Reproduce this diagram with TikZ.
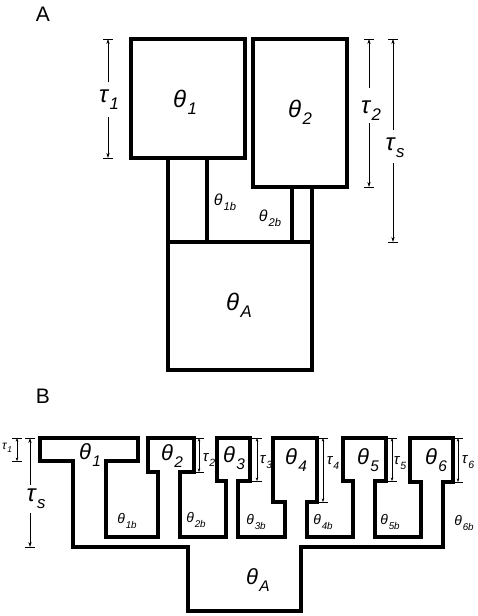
\documentclass[tikz,border=0pt]{standalone}
\usepackage{fontspec}
\usepackage{graphicx}
\setmainfont{Liberation Sans}
\usetikzlibrary{arrows.meta}
% greek letter with a lowered index
\newcommand{\gk}[2]{#1\kern.06em\raisebox{-.3em}{\scalebox{.7}{#2}}}

\begin{document}
\begin{tikzpicture}[x=1pt,y=-1pt,line join=miter,
	wall/.style={line width=3.2pt},
	thinline/.style={line width=0.5pt},
	tip/.style={-{Stealth[length=5pt,width=3.2pt]}},
	tipsmall/.style={{Stealth[length=3.5pt,width=2.6pt]}-{Stealth[length=3.5pt,width=2.6pt]}},
	panel/.style={font=\fontsize{21}{24}\selectfont},
	big/.style={inner sep=0pt,font=\fontsize{24}{26}\selectfont\itshape},
	mid/.style={inner sep=0pt,font=\fontsize{22}{24}\selectfont\itshape},
	small/.style={inner sep=0pt,font=\fontsize{16}{18}\selectfont\itshape},
	tiny/.style={inner sep=0pt,font=\fontsize{14}{16}\selectfont\itshape}]
\useasboundingbox (0,0) rectangle (478,616);

% ---- panel A
\node[panel] (labA) at (43,14) {A};
\draw[wall] (131,39) rectangle (245,158);
\draw[wall] (253,39) rectangle (347,187);
\draw[wall] (168,158) -- (168,242) (207,158) -- (207,242);
\draw[wall] (292,187) -- (292,242) (312,187) -- (312,242);
\draw[wall] (168,242) rectangle (312,370);
\node[big] (thA1) at (185,102) {\gk{θ}{1}};
\node[big] (thA2) at (300,112) {\gk{θ}{2}};
\node[small] (thA1b) at (225,202) {\gk{θ}{1b}};
\node[small] (thA2b) at (270,218) {\gk{θ}{2b}};
\node[big] (thAA) at (239,305) {\gk{θ}{A}};
% times, with a gap for the label
\foreach \x/\ya/\ga/\gb/\yb in {108/39/82/117/158, 369/39/88/123/187, 393/39/130/163/242}{
	\draw[thinline] (\x-5,\ya) -- (\x+5,\ya) (\x-5,\yb) -- (\x+5,\yb);
	\draw[thinline,tip] (\x,\ga) -- (\x,\ya);
	\draw[thinline,tip] (\x,\gb) -- (\x,\yb);}
\node[big] (tauA1) at (109,100) {\gk{τ}{1}};
\node[big] (tauA2) at (371,111) {\gk{τ}{2}};
\node[big] (tauAs) at (395,148) {\gk{τ}{s}};

% ---- panel B
\node[panel] (labB) at (43,396) {B};
\draw[wall] (40,438) -- (138,438) -- (138,461) -- (106,461) -- (106,537) -- (158,537)
	-- (158,472) -- (148,472) -- (148,438) -- (194,438) -- (194,472) -- (180,472) -- (180,537)
	-- (226,537) -- (226,481) -- (217,481) -- (217,438) -- (250,438) -- (250,481) -- (238,481)
	-- (238,537) -- (285,537) -- (285,502) -- (273,502) -- (273,438) -- (317,438) -- (317,502)
	-- (307,502) -- (307,537) -- (353,537) -- (353,481) -- (343,481) -- (343,438) -- (386,438)
	-- (386,481) -- (375,481) -- (375,537) -- (421,537) -- (421,482) -- (410,482) -- (410,438)
	-- (453,438) -- (453,482) -- (443,482) -- (443,547) -- (301,547) -- (301,611) -- (188,611)
	-- (188,547) -- (73,547) -- (73,461) -- (40,461) -- cycle;
\foreach \i/\x/\y in {1/90/455, 2/172/456, 3/234/458, 4/296/460, 5/368/460, 6/436/460}{
	\node[mid] (thB\i) at (\x,\y) {\gk{θ}{\i}};}
\foreach \i/\x/\y in {1/127/521, 2/196/520, 3/256/522, 4/323/522, 5/390/522, 6/464/523}{
	\node[tiny] (thB\i b) at (\x,\y) {\gk{θ}{\i b}};}
\node[mid] (thBA) at (258,580) {\gk{θ}{A}};
% times
\foreach \i/\x/\yb/\lx/\ly in {2/199/472/209/460, 3/257/481/266/462, 4/323/502/333/463, 5/392/481/400/463, 6/458/482/468/462}{
	\draw[thinline] (\x-5,438) -- (\x+5,438) (\x-5,\yb) -- (\x+5,\yb);
	\draw[thinline,tipsmall] (\x,438) -- (\x,\yb);
	\node[inner sep=0pt,font=\fontsize{15}{17}\selectfont\itshape] (tauB\i) at (\lx,\ly) {\gk{τ}{\i}};}
\draw[thinline] (12,438) -- (22,438) (12,461) -- (22,461);
\draw[thinline,tipsmall] (17,438) -- (17,461);
\node[inner sep=0pt,font=\fontsize{12}{14}\selectfont\itshape] (tauB1) at (7,448) {\gk{τ}{1}};
\draw[thinline] (25,438) -- (35,438) (25,547) -- (35,547);
\draw[thinline,tip] (30,485) -- (30,438);
\draw[thinline,tip] (30,513) -- (30,547);
\node[big] (tauBs) at (36,499) {\gk{τ}{s}};
\end{tikzpicture}
\end{document}
